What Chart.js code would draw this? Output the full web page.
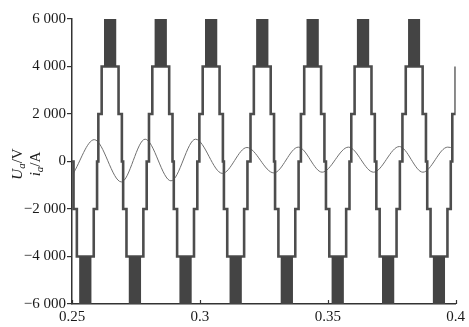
<!DOCTYPE html>
<html>
<head>
<meta charset="utf-8">
<script src="https://cdn.jsdelivr.net/npm/chart.js@4/dist/chart.umd.min.js"></script>
<style>
  html, body { margin: 0; padding: 0; background: #ffffff; }
  #wrap { width: 469px; height: 327px; }
</style>
</head>
<body>
<div id="wrap"><canvas id="c" width="469" height="327"></canvas></div>
<script>
// ---- axis ticks ----
const xTicks = [0.25, 0.3, 0.35, 0.4];
const xTickLabels = ['0.25', '0.3', '0.35', '0.4'];
const yTicks = [-6000, -4000, -2000, 0, 2000, 4000, 6000];
const yTickLabels = ['\u22126 000', '\u22124 000', '\u22122 000', '0', '2 000', '4 000', '6 000'];

// ---- voltage U_a: staircase (7-level) ----
// centres of positive peaks and negative peaks (s)
const topPeakTimes = [0.2649, 0.2847, 0.3044, 0.3244, 0.3441, 0.3638, 0.3838, 0.4033];
const bottomPeakTimes = [0.2552, 0.2746, 0.2944, 0.3140, 0.3340, 0.3539, 0.3736, 0.3935];
// staircase levels (V) and their half widths around a peak centre (s)
const stepLevels = [2000, 4000];
const stepHalfWidths = [0.0046, 0.0033];
// PWM band between 4000 and 6000 V at each peak
const pwmLow = 4000;
const pwmHigh = 6000;
const pwmHalfWidth = 0.0024;

// ---- current i_a: extrema ----
const currentTimes = [0.2504, 0.2587, 0.2693, 0.2786, 0.2887, 0.2983, 0.3088, 0.3184,
                      0.3289, 0.3385, 0.3478, 0.3581, 0.3679, 0.3780, 0.3872, 0.3969, 0.3981];
const currentValues = [-520, 920, -860, 940, -815, 940, -500, 590,
                       -480, 605, -450, 605, -450, 630, -450, 605, 590];

const xMin = 0.25, xMax = 0.4;

// build stepped staircase table
const events = topPeakTimes.map(c => ({c, s: 1})).concat(bottomPeakTimes.map(c => ({c, s: -1})))
  .sort((a, b) => a.c - b.c);
let stair = [{x: xMin, y: 0}];
events.forEach(e => {
  stair.push({x: e.c - stepHalfWidths[0], y: e.s * stepLevels[0]});
  stair.push({x: e.c - stepHalfWidths[1], y: e.s * stepLevels[1]});
  stair.push({x: e.c + stepHalfWidths[1], y: e.s * stepLevels[0]});
  stair.push({x: e.c + stepHalfWidths[0], y: 0});
});
stair = stair.filter(p => p.x >= xMin && p.x <= xMax);

// PWM bands
let topBand = [{x: xMin, y: pwmLow}];
topPeakTimes.forEach(c => {
  topBand.push({x: c - pwmHalfWidth, y: pwmHigh});
  topBand.push({x: c + pwmHalfWidth, y: pwmLow});
});
topBand = topBand.filter(p => p.x >= xMin && p.x <= xMax);
let botBand = [{x: xMin, y: -pwmLow}];
bottomPeakTimes.forEach(c => {
  botBand.push({x: c - pwmHalfWidth, y: -pwmHigh});
  botBand.push({x: c + pwmHalfWidth, y: -pwmLow});
});
botBand = botBand.filter(p => p.x >= xMin && p.x <= xMax);

const current = currentTimes.map((t, i) => ({x: t, y: currentValues[i]}));

const serif = "'Liberation Serif', 'DejaVu Serif', serif";

const innerXTicks = {
  id: 'innerXTicks',
  afterDraw(chart) {
    const xs = chart.scales.x, ctx = chart.ctx, y0 = chart.chartArea.bottom;
    ctx.save();
    ctx.strokeStyle = '#333';
    ctx.lineWidth = 1.2;
    xTicks.forEach(v => {
      const px = Math.round(xs.getPixelForValue(v)) + 0.5;
      ctx.beginPath();
      ctx.moveTo(px, y0);
      ctx.lineTo(px, y0 - 4);
      ctx.stroke();
    });
    ctx.restore();
  }
};

const yTitle = {
  id: 'yTitle',
  afterDraw(chart) {
    const ctx = chart.ctx;
    const cy = 164;
    const cols = [
      {x: 22, parts: [['U', true, false], ['a', true, true], ['/V', false, false]]},
      {x: 40, parts: [['i', true, false], ['a', true, true], ['/A', false, false]]}
    ];
    ctx.save();
    ctx.fillStyle = '#222';
    ctx.textBaseline = 'alphabetic';
    cols.forEach(col => {
      const fonts = col.parts.map(p => (p[1] ? 'italic ' : '') + (p[2] ? '11px ' : '15px ') + serif);
      let total = 0;
      const widths = col.parts.map((p, i) => { ctx.font = fonts[i]; const w = ctx.measureText(p[0]).width; total += w; return w; });
      ctx.save();
      ctx.translate(col.x, cy);
      ctx.rotate(-Math.PI / 2);
      let pos = -total / 2;
      col.parts.forEach((p, i) => {
        ctx.font = fonts[i];
        ctx.fillText(p[0], pos, p[2] ? 3 : 0);
        pos += widths[i];
      });
      ctx.restore();
    });
    ctx.restore();
  }
};

new Chart(document.getElementById('c'), {
  type: 'line',
  data: {
    datasets: [
      {
        label: 'pwm+', data: topBand, stepped: 'before', borderWidth: 0,
        borderColor: 'rgba(0,0,0,0)', backgroundColor: '#444444',
        fill: {value: pwmLow}, pointRadius: 0, order: 1
      },
      {
        label: 'pwm-', data: botBand, stepped: 'before', borderWidth: 0,
        borderColor: 'rgba(0,0,0,0)', backgroundColor: '#444444',
        fill: {value: -pwmLow}, pointRadius: 0, order: 1
      },
      {
        label: 'Ua', data: stair, stepped: 'before', borderColor: '#4d4d4d',
        borderWidth: 2.6, pointRadius: 0, fill: false, order: 2
      },
      {
        label: 'ia', data: current, borderColor: '#707070', borderWidth: 1,
        cubicInterpolationMode: 'monotone', pointRadius: 0, fill: false, order: 3
      }
    ]
  },
  options: {
    responsive: false,
    animation: false,
    devicePixelRatio: 1,
    layout: {padding: {left: 0, top: 19, right: 9, bottom: 0}},
    plugins: {legend: {display: false}, tooltip: {enabled: false}, title: {display: false}},
    scales: {
      x: {
        type: 'linear', min: xMin, max: xMax,
        afterBuildTicks: s => { s.ticks = xTicks.map(v => ({value: v})); },
        afterFit: s => { s.height = 23; },
        grid: {display: false, drawTicks: false, tickLength: 0},
        border: {display: true, color: '#333', width: 1.5},
        ticks: {
          font: {family: serif, size: 15}, color: '#1a1a1a', padding: 4, maxRotation: 0,
          callback: (v) => { const i = xTicks.findIndex(t => Math.abs(t - v) < 1e-9); return i >= 0 ? xTickLabels[i] : ''; }
        }
      },
      y: {
        type: 'linear', min: -6000, max: 6000,
        afterBuildTicks: s => { s.ticks = yTicks.map(v => ({value: v})); },
        afterFit: s => { s.width = 72; },
        grid: {display: true, drawOnChartArea: false, drawTicks: true, tickLength: 5, color: '#333', lineWidth: 1.2},
        border: {display: true, color: '#333', width: 1.5},
        ticks: {
          font: {family: serif, size: 15}, color: '#1a1a1a', padding: 1,
          callback: (v) => { const i = yTicks.indexOf(v); return i >= 0 ? yTickLabels[i] : ''; }
        }
      }
    }
  },
  plugins: [innerXTicks, yTitle]
});
</script>
</body>
</html>
